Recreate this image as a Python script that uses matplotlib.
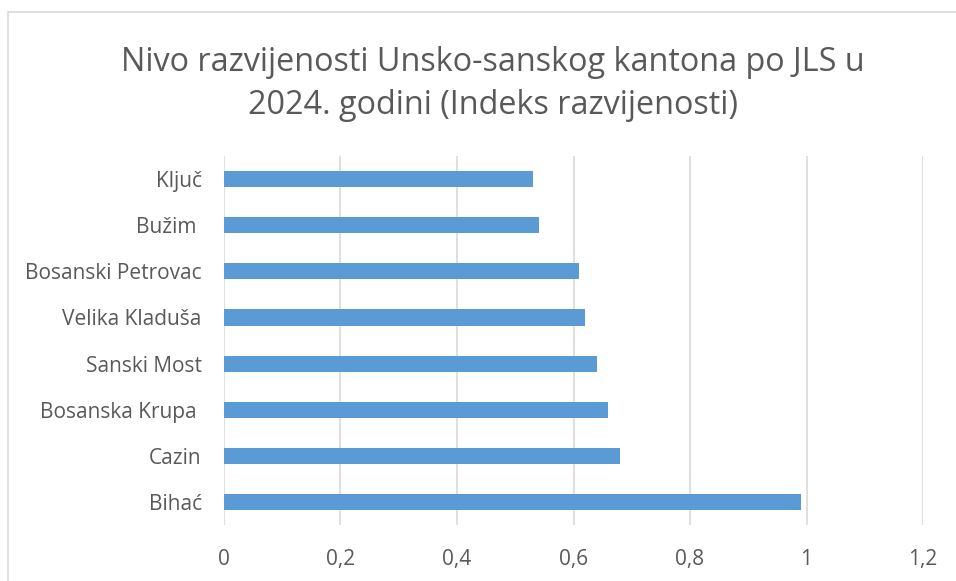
import matplotlib.pyplot as plt
from matplotlib.patches import Rectangle

# Data
municipalities = ['Bihać', 'Cazin', 'Bosanska Krupa ', 'Sanski Most', 'Velika Kladuša',
                  'Bosanski Petrovac', 'Bužim ', 'Ključ']
index_values = [0.99, 0.68, 0.66, 0.64, 0.62, 0.61, 0.54, 0.53]
x_ticks = [0, 0.2, 0.4, 0.6, 0.8, 1.0, 1.2]
x_tick_labels = ['0', '0,2', '0,4', '0,6', '0,8', '1', '1,2']

text_color = '#595959'
plt.rcParams['font.family'] = ['Open Sans', 'DejaVu Sans']

fig = plt.figure(figsize=(9.56, 5.81), dpi=100)
ax = fig.add_axes([0.2343, 0.0964, 0.7312, 0.635])

# chart frame (right/bottom edges fall outside the picture)
fig.patches.append(Rectangle((7.5 / 956, -0.1), 1.2, 1.1 - 11.5 / 581,
                             transform=fig.transFigure, fill=False,
                             edgecolor='#D9D9D9', linewidth=1.2))

ax.barh(range(len(municipalities)), index_values, height=0.35, color='#5B9BD5', zorder=3)
ax.set_yticks(range(len(municipalities)))
ax.set_yticklabels(municipalities)
ax.set_ylim(-0.5, len(municipalities) - 0.5)
ax.set_xlim(0, 1.2)
ax.set_xticks(x_ticks)
ax.set_xticklabels(x_tick_labels)
ax.grid(axis='x', color='#D9D9D9', linewidth=1.2, zorder=0)
for s in ax.spines.values():
    s.set_visible(False)
ax.tick_params(axis='both', length=0, colors=text_color, labelsize=15)
ax.tick_params(axis='x', pad=17)
ax.tick_params(axis='y', pad=16)

fig.text(0.5155, 0.855, 'Nivo razvijenosti Unsko-sanskog kantona po JLS u\n2024. godini (Indeks razvijenosti)',
         ha='center', va='center', fontsize=23.3, color=text_color, linespacing=1.4)

fig.savefig('out.png', dpi=100)
